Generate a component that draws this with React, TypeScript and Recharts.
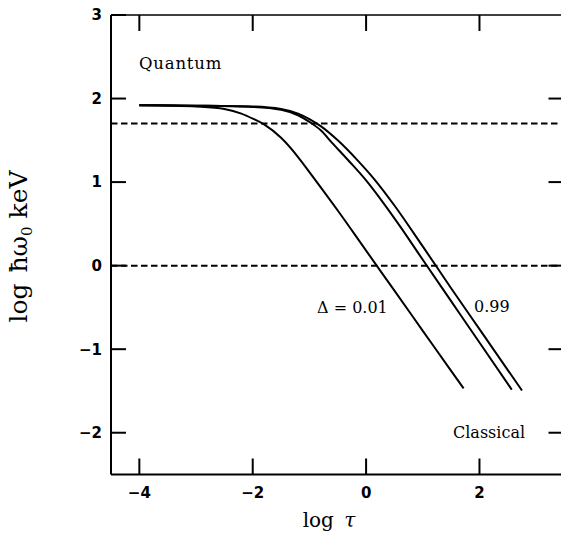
import React from 'react';
import { ComposedChart, Line, XAxis, YAxis, ReferenceLine } from 'recharts';

const xTicks = [-4, -2, 0, 2];
const yTicks = [-2, -1, 0, 1, 2, 3];
const rightTicks = [-2, -1, 0, 1, 2];
const dashedLevels = [0, 1.7];

// Delta = 0.01
const curveD001 = [
  { x: -4, y: 1.92 },
  { x: -3.5, y: 1.915 },
  { x: -3, y: 1.905 },
  { x: -2.5, y: 1.875 },
  { x: -2.2, y: 1.82 },
  { x: -2, y: 1.76 },
  { x: -1.8, y: 1.69 },
  { x: -1.5, y: 1.53 },
  { x: -1.2, y: 1.3 },
  { x: -1, y: 1.12 },
  { x: -0.5, y: 0.66 },
  { x: 0, y: 0.18 },
  { x: 0.5, y: -0.3 },
  { x: 1, y: -0.78 },
  { x: 1.5, y: -1.26 },
  { x: 1.72, y: -1.47 },
];

// inner curve of the pair
const curveInner = [
  { x: -4, y: 1.92 },
  { x: -3, y: 1.915 },
  { x: -2, y: 1.9 },
  { x: -1.5, y: 1.865 },
  { x: -1.2, y: 1.8 },
  { x: -1, y: 1.72 },
  { x: -0.8, y: 1.62 },
  { x: -0.6, y: 1.47 },
  { x: -0.3, y: 1.25 },
  { x: 0, y: 1.02 },
  { x: 0.3, y: 0.755 },
  { x: 0.6, y: 0.47 },
  { x: 1, y: 0.07 },
  { x: 1.5, y: -0.425 },
  { x: 2, y: -0.92 },
  { x: 2.57, y: -1.485 },
];

// Delta = 0.99
const curveD099 = [
  { x: -4, y: 1.92 },
  { x: -3, y: 1.915 },
  { x: -2, y: 1.905 },
  { x: -1.5, y: 1.875 },
  { x: -1.2, y: 1.82 },
  { x: -1, y: 1.755 },
  { x: -0.8, y: 1.67 },
  { x: -0.5, y: 1.5 },
  { x: -0.15, y: 1.26 },
  { x: 0.15, y: 1.03 },
  { x: 0.5, y: 0.72 },
  { x: 1, y: 0.23 },
  { x: 1.5, y: -0.27 },
  { x: 2, y: -0.76 },
  { x: 2.5, y: -1.25 },
  { x: 2.75, y: -1.495 },
];

const fmt = (v: number) => (v < 0 ? '\u2212' + Math.abs(v) : String(v));
const tickFontFamily = '"DejaVu Sans", "Liberation Sans", sans-serif';

const LeftTick = (props: any) => {
  const { x, y, payload } = props;
  return (
    <g>
      <line x1={x} x2={x + 15} y1={y} y2={y} stroke="#000" strokeWidth={2} />
      <text x={x - 9} y={y} dy="0.36em" textAnchor="end" fill="#000" fontFamily={tickFontFamily} fontWeight={700} fontSize={15}>
        {fmt(payload.value)}
      </text>
    </g>
  );
};

const BottomTick = (props: any) => {
  const { x, y, payload } = props;
  return (
    <g>
      <line x1={x} x2={x} y1={y} y2={y - 16} stroke="#000" strokeWidth={2} />
      <text x={x} y={y + 23} textAnchor="middle" fill="#000" fontFamily={tickFontFamily} fontWeight={700} fontSize={15}>
        {fmt(payload.value)}
      </text>
    </g>
  );
};

const TopTick = (props: any) => {
  const { x, y } = props;
  return <line x1={x} x2={x} y1={y} y2={y + 16} stroke="#000" strokeWidth={2} />;
};

const RightTick = (props: any) => {
  const { x, y } = props;
  return <line x1={x} x2={x - 16} y1={y} y2={y} stroke="#000" strokeWidth={2} />;
};

const serif = '"DejaVu Serif", "Liberation Serif", serif';

export default function App() {
  return (
    <div style={{ position: 'absolute', left: 0, top: 0, width: 561, height: 536, overflow: 'hidden', background: '#fff' }}>
      <ComposedChart width={580} height={536} margin={{ top: 0, right: 0, bottom: 1.5, left: 0 }}>
        <XAxis
          xAxisId={0}
          dataKey="x"
          type="number"
          domain={[-4.5, 3.5]}
          ticks={xTicks}
          allowDataOverflow
          height={60}
          tickSize={0}
          tickMargin={0}
          tickLine={false}
          axisLine={{ stroke: '#000', strokeWidth: 2 }}
          tick={BottomTick}
          interval={0}
        />
        <XAxis
          xAxisId="top"
          orientation="top"
          dataKey="x"
          type="number"
          domain={[-4.5, 3.5]}
          ticks={xTicks}
          allowDataOverflow
          height={15}
          tickSize={0}
          tickMargin={0}
          tickLine={false}
          axisLine={{ stroke: '#000', strokeWidth: 1.6 }}
          tick={TopTick}
          interval={0}
        />
        <YAxis
          yAxisId={0}
          type="number"
          domain={[-2.5, 3]}
          ticks={yTicks}
          allowDataOverflow
          width={111}
          tickSize={0}
          tickMargin={0}
          tickLine={false}
          axisLine={{ stroke: '#000', strokeWidth: 2 }}
          tick={LeftTick}
          interval={0}
        />
        <YAxis
          yAxisId="r"
          orientation="right"
          type="number"
          domain={[-2.5, 3]}
          ticks={rightTicks}
          allowDataOverflow
          width={15.5}
          tickSize={0}
          tickMargin={0}
          tickLine={false}
          axisLine={{ stroke: '#000', strokeWidth: 2 }}
          tick={RightTick}
          interval={0}
        />
        {dashedLevels.map((lv) => (
          <ReferenceLine key={lv} y={lv} stroke="#000" strokeWidth={2} strokeDasharray="6.5 3.5" />
        ))}
        <Line data={curveD001} dataKey="y" type="monotone" stroke="#000" strokeWidth={2} dot={false} isAnimationActive={false} />
        <Line data={curveInner} dataKey="y" type="monotone" stroke="#000" strokeWidth={2} dot={false} isAnimationActive={false} />
        <Line data={curveD099} dataKey="y" type="monotone" stroke="#000" strokeWidth={2} dot={false} isAnimationActive={false} />
      </ComposedChart>
      <svg width={561} height={536} style={{ position: 'absolute', left: 0, top: 0, pointerEvents: 'none' }}>
        <text x={139} y={69} fill="#000" fontFamily={serif} fontSize={16.5} letterSpacing={0.8}>Quantum</text>
        <text x={317} y={313} fill="#000" fontFamily={serif} fontSize={16}>{'\u0394 = 0.01'}</text>
        <text x={474} y={312} fill="#000" fontFamily={serif} fontSize={16}>0.99</text>
        <text x={453} y={438} fill="#000" fontFamily={serif} fontSize={16}>Classical</text>
        <text x={329} y={527} textAnchor="middle" fill="#000" fontFamily={serif} fontSize={20}>
          log <tspan fontStyle="italic" dx={4}>{'\u03C4'}</tspan>
        </text>
        <text x={27} y={246.5} textAnchor="middle" transform="rotate(-90 27 246.5)" fill="#000" fontFamily={serif} fontSize={25}>
          log <tspan dx={3}>{'\u0127\u03C9'}</tspan>
          <tspan fontSize={15} dy={5}>0</tspan>
          <tspan dy={-5} dx={8}>keV</tspan>
        </text>
      </svg>
    </div>
  );
}
